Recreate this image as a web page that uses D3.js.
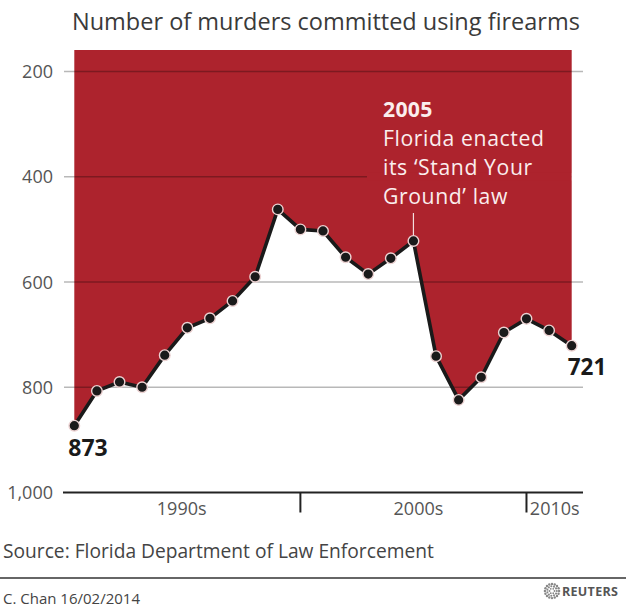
<!DOCTYPE html>
<html>
<head>
<meta charset="utf-8">
<script src="https://cdn.jsdelivr.net/npm/d3@7"></script>
<style>
  html, body { margin: 0; padding: 0; background: #fff; }
  svg { display: block; font-family: "Open Sans", "Noto Sans", sans-serif; }
</style>
</head>
<body>
<svg id="chart" width="626" height="608"></svg>
<script>
// ---- data ----
const years = [1990,1991,1992,1993,1994,1995,1996,1997,1998,1999,2000,2001,2002,2003,2004,2005,2006,2007,2008,2009,2010,2011,2012];
const murders = [873,807,790,800,739,687,669,636,590,462,500,503,553,585,555,522,741,824,781,696,670,692,721];
const yTicks = [200,400,600,800,1000];
const yTickLabels = ["200","400","600","800","1,000"];
const decadeBreaks = [2000,2010];
const decadeLabels = ["1990s","2000s","2010s"];
const title = "Number of murders committed using firearms";
const annotationYear = 2005;
const annotationLines = ["Florida enacted","its \u2018Stand Your","Ground\u2019 law"];
const sourceText = "Source: Florida Department of Law Enforcement";
const creditText = "C. Chan  16/02/2014";

// ---- layout ----
const svg = d3.select("#chart");
const RED = "#ad232d";
const x = d3.scaleLinear().domain([1989.5, 2012.5]).range([63, 583]);
const y = d3.scaleLinear().domain([200, 1000]).range([71.5, 492.5]);
const redTop = 50;

const data = years.map((yr, i) => ({ year: yr, value: murders[i] }));

// title
svg.append("text")
  .attr("x", 72).attr("y", 30)
  .attr("font-size", 23.5).attr("fill", "#3a3a3a")
  .text(title);

// red area (from line up to top)
const area = d3.area()
  .x(d => x(d.year))
  .y0(redTop)
  .y1(d => y(d.value));
svg.append("path").datum(data).attr("d", area).attr("fill", RED);

// gridlines
svg.append("g").selectAll("line")
  .data(yTicks.slice(0, -1))
  .join("line")
  .attr("x1", 64).attr("x2", 583)
  .attr("y1", d => y(d)).attr("y2", d => y(d))
  .attr("stroke", "#000").attr("stroke-opacity", 0.28).attr("stroke-width", 1.6);

// annotation mask over the 400 gridline
const ay = y(400);
svg.append("rect").attr("x", 367).attr("y", ay - 4).attr("width", x(2012) - 367).attr("height", 8).attr("fill", RED);
svg.append("rect").attr("x", x(2012)).attr("y", ay - 4).attr("width", 584 - x(2012)).attr("height", 8).attr("fill", "#fff");

// y labels
svg.append("g").selectAll("text")
  .data(yTicks)
  .join("text")
  .attr("x", 53).attr("y", d => y(d) + 6.5)
  .attr("text-anchor", "end")
  .attr("font-size", 18).attr("fill", "#555")
  .text((d, i) => yTickLabels[i]);

// x axis baseline
svg.append("line")
  .attr("x1", 63).attr("x2", 583)
  .attr("y1", y(1000)).attr("y2", y(1000))
  .attr("stroke", "#222").attr("stroke-width", 2);

// decade ticks
svg.append("g").selectAll("line")
  .data(decadeBreaks)
  .join("line")
  .attr("x1", d => x(d)).attr("x2", d => x(d))
  .attr("y1", y(1000)).attr("y2", y(1000) + 20)
  .attr("stroke", "#222").attr("stroke-width", 2);

// decade labels (centered between boundaries)
const bounds = [x.range()[0], ...decadeBreaks.map(x), x.range()[1]];
svg.append("g").selectAll("text")
  .data(decadeLabels)
  .join("text")
  .attr("x", (d, i) => (bounds[i] + bounds[i + 1]) / 2 + (i === 1 ? 5 : 0))
  .attr("y", y(1000) + 22)
  .attr("text-anchor", "middle")
  .attr("font-size", 18).attr("fill", "#555")
  .text(d => d);

// annotation
const ax = x(annotationYear);
const annVal = murders[years.indexOf(annotationYear)];
svg.append("line")
  .attr("x1", ax).attr("x2", ax)
  .attr("y1", 213).attr("y2", y(annVal))
  .attr("stroke", "#f3dede").attr("stroke-width", 1.2);
const annG = svg.append("g").attr("fill", "#fbeeee").attr("font-size", 21.2).attr("letter-spacing", 0.6);
annG.append("text").attr("x", 383).attr("y", 116.5).attr("font-weight", "bold").attr("letter-spacing", 0.3)
  .text(String(annotationYear));
annotationLines.forEach((t, i) => {
  annG.append("text").attr("x", 383).attr("y", 145.5 + i * 29).text(t);
});

// line
const line = d3.line().x(d => x(d.year)).y(d => y(d.value));
svg.append("path").datum(data).attr("d", line)
  .attr("fill", "none").attr("stroke", "#1a1a1a").attr("stroke-width", 3.6)
  .attr("stroke-linejoin", "round");

// points
svg.append("g").selectAll("circle")
  .data(data)
  .join("circle")
  .attr("cx", d => x(d.year)).attr("cy", d => y(d.value))
  .attr("r", 5.3)
  .attr("fill", "#1a1a1a").attr("stroke", "#ecd2d2").attr("stroke-width", 1.4);

// end labels
const first = data[0], last = data[data.length - 1];
svg.append("text").attr("x", x(first.year) - 6).attr("y", y(first.value) + 30)
  .attr("font-size", 23).attr("font-weight", "bold").attr("fill", "#1a1a1a")
  .text(first.value);
svg.append("text").attr("x", x(last.year) - 4).attr("y", y(last.value) + 29)
  .attr("font-size", 22.5).attr("font-weight", "bold").attr("fill", "#1a1a1a")
  .text(last.value);

// footer
svg.append("text").attr("x", 3).attr("y", 558)
  .attr("font-size", 19.2).attr("fill", "#444").text(sourceText);
svg.append("line").attr("x1", 0).attr("x2", 626).attr("y1", 578).attr("y2", 578)
  .attr("stroke", "#666").attr("stroke-width", 2);
svg.append("text").attr("x", 3).attr("y", 604)
  .attr("font-size", 15).attr("fill", "#444").text(creditText);

// reuters logo
const logo = svg.append("g").attr("transform", "translate(552,591)");
for (let ring = 0; ring < 3; ring++) {
  const r = 2.5 + ring * 2.3;
  const n = 6 + ring * 5;
  for (let k = 0; k < n; k++) {
    const a = (k / n) * 2 * Math.PI;
    logo.append("circle").attr("cx", r * Math.cos(a)).attr("cy", r * Math.sin(a))
      .attr("r", 0.9 + ring * 0.15).attr("fill", "#888");
  }
}
svg.append("text").attr("x", 562).attr("y", 596)
  .attr("font-size", 12.5).attr("font-weight", "bold").attr("fill", "#555")
  .attr("letter-spacing", 0.3).text("REUTERS");
</script>
</body>
</html>
